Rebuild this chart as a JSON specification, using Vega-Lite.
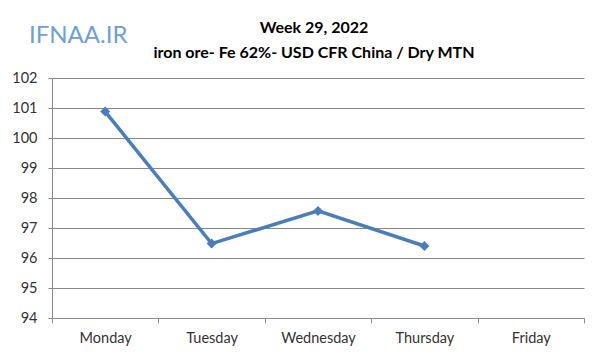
{
  "$schema": "https://vega.github.io/schema/vega-lite/v6.json",
  "width": 532,
  "height": 240,
  "autosize": "none",
  "padding": {"left": 52, "top": 78, "right": 16, "bottom": 41},
  "background": "white",
  "title": {
    "text": "Week 29, 2022",
    "subtitle": "iron ore- Fe 62%- USD CFR China / Dry MTN",
    "font": "Lato",
    "fontSize": 16,
    "fontWeight": "bold",
    "color": "black",
    "subtitleFont": "Lato",
    "subtitleFontSize": 16,
    "subtitleFontWeight": "bold",
    "subtitleColor": "black",
    "subtitlePadding": 9,
    "anchor": "middle",
    "frame": "group",
    "offset": -37,
    "dx": -4
  },
  "config": {"view": {"stroke": null}},
  "data": {
    "values": [
      {"day": "Monday", "price": 100.88},
      {"day": "Tuesday", "price": 96.48},
      {"day": "Wednesday", "price": 97.57},
      {"day": "Thursday", "price": 96.4}
    ]
  },
  "encoding": {
    "x": {
      "field": "day",
      "type": "nominal",
      "scale": {"type": "band", "domain": ["Monday", "Tuesday", "Wednesday", "Thursday", "Friday"], "paddingInner": 0, "paddingOuter": 0},
      "axis": {
        "title": null,
        "labelAngle": 0,
        "tickBand": "extent",
        "grid": false,
        "domainColor": "#8c8c8c",
        "tickColor": "#8c8c8c",
        "tickSize": 5,
        "labelPadding": 8,
        "labelFont": "Lato",
        "labelFontSize": 14.5,
        "labelColor": "#333333"
      }
    },
    "y": {
      "field": "price",
      "type": "quantitative",
      "scale": {"domain": [94, 102], "nice": false, "zero": false},
      "axis": {
        "title": null,
        "values": [94, 95, 96, 97, 98, 99, 100, 101, 102],
        "labelOverlap": false,
        "grid": true,
        "gridColor": "#888888",
        "domainColor": "#888888",
        "tickColor": "#888888",
        "tickSize": 4,
        "labelPadding": 11,
        "labelFont": "Lato",
        "labelFontSize": 14.5,
        "labelColor": "#333333"
      }
    }
  },
  "layer": [
    {"mark": {"type": "line", "color": "#4A7EBB", "strokeWidth": 3.5}},
    {"mark": {"type": "point", "shape": "diamond", "filled": true, "size": 100, "color": "#4A7EBB", "opacity": 1}},
    {
      "data": {"values": [{"label": "IFNAA.IR", "day": "Monday", "price": 103.4}]},
      "mark": {"type": "text", "font": "Lato", "fontSize": 24, "color": "#6E9FD9", "align": "center", "baseline": "middle", "dx": -27},
      "encoding": {"text": {"field": "label"}}
    }
  ]
}
